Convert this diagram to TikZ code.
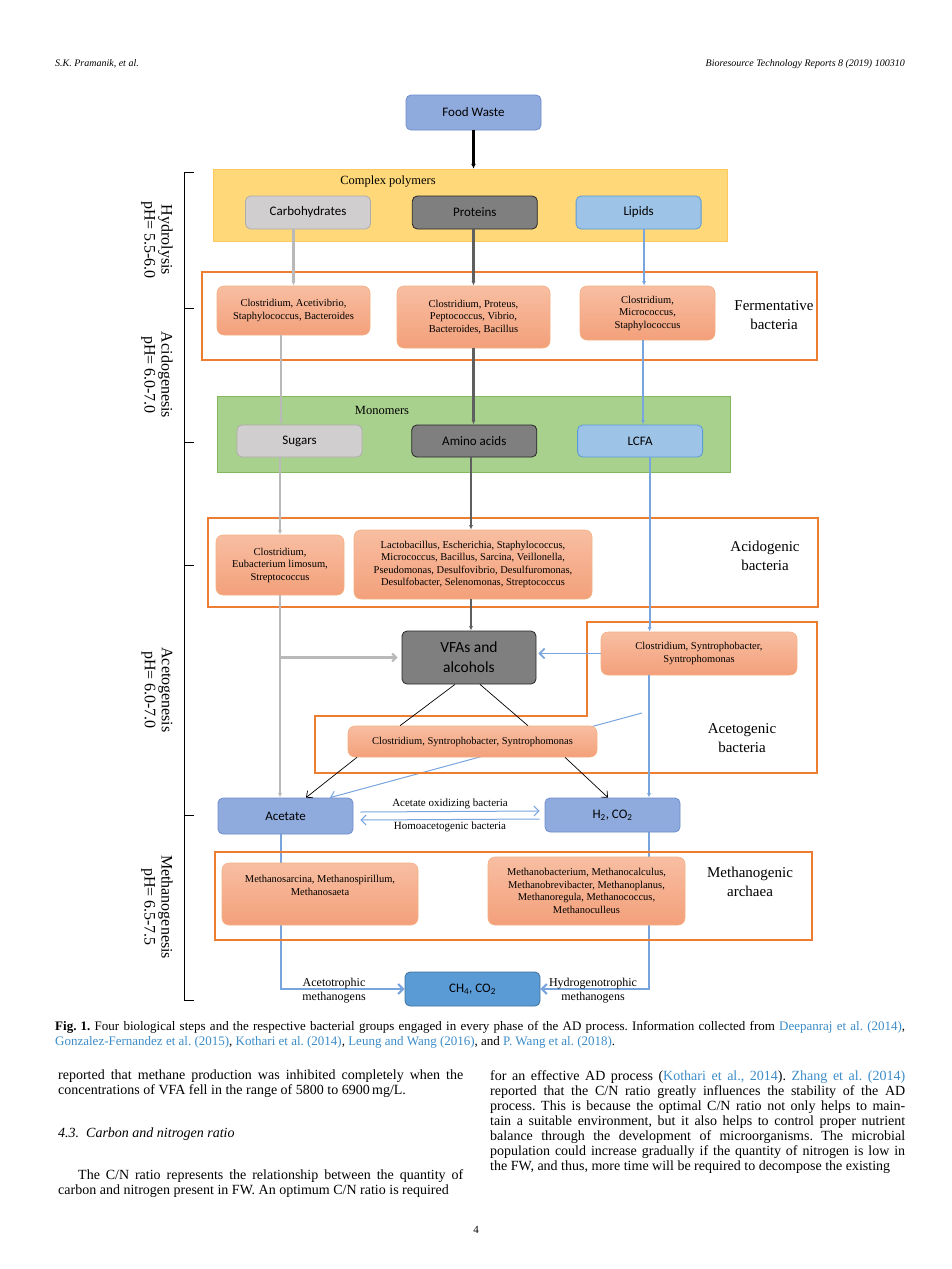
\documentclass[tikz,border=0pt]{standalone}
\usepackage{fontspec}
\setmainfont{Liberation Serif}
\newfontfamily\calibri{Carlito}
\usetikzlibrary{positioning, arrows.meta, backgrounds}
\frenchspacing

\definecolor{wasteblue}{RGB}{143,170,220}
\definecolor{wasteedge}{RGB}{110,140,205}
\definecolor{lipblue}{RGB}{157,195,230}
\definecolor{lipedge}{RGB}{91,155,213}
\definecolor{ltgray}{RGB}{208,206,206}
\definecolor{ltedge}{RGB}{175,171,171}
\definecolor{dkgray}{RGB}{127,127,127}
\definecolor{dkedge}{RGB}{38,38,38}
\definecolor{bacttop}{RGB}{248,190,162}
\definecolor{bactbot}{RGB}{243,160,122}
\definecolor{bactedge}{RGB}{244,177,131}
\definecolor{frameorange}{RGB}{237,125,49}
\definecolor{polyyellow}{RGB}{255,216,122}
\definecolor{polyedge}{RGB}{255,200,90}
\definecolor{monogreen}{RGB}{169,209,142}
\definecolor{monoedge}{RGB}{130,185,95}
\definecolor{methblue}{RGB}{91,155,213}
\definecolor{methedge}{RGB}{65,113,156}
\definecolor{linkblue}{RGB}{60,140,200}
\definecolor{lineblue}{RGB}{120,165,222}
\definecolor{linegray}{RGB}{185,185,185}
\definecolor{linedark}{RGB}{95,95,95}

\newcommand{\lnk}[1]{\textcolor{linkblue}{#1}}

\tikzset{
	x=1pt, y=-1pt, % one unit is one pixel of the page, y runs downwards
	every node/.style={inner sep=0pt},
	box/.style={draw, rounded corners=5pt, line width=0.8pt, align=center, font=\calibri\fontsize{13}{16}\selectfont}, % the coloured boxes
	wastebox/.style={box, fill=wasteblue, draw=wasteedge},
	lightbox/.style={box, fill=ltgray, draw=ltedge},
	darkbox/.style={box, fill=dkgray, draw=dkedge},
	lipbox/.style={box, fill=lipblue, draw=lipedge},
	methbox/.style={box, fill=methblue, draw=methedge},
	rowbox/.style={minimum width=125, minimum height=33},
	bactbox/.style={draw=bactedge, rounded corners=7pt, line width=0.6pt, top color=bacttop, bottom color=bactbot, align=center, font=\fontsize{10.5}{12.5}\selectfont}, % bacterial groups
	groupframe/.style={draw=frameorange, line width=1.4pt},
	grouplabel/.style={align=center, font=\fontsize{15}{19}\selectfont},
	grouptitle/.style={font=\fontsize{12.5}{15}\selectfont},
	phaselabel/.style={align=center, rotate=-90, font=\fontsize{16}{17}\selectfont},
	smalllabel/.style={align=center, font=\fontsize{12}{14}\selectfont},
	arrowlabel/.style={font=\fontsize{11}{13}\selectfont},
	grayline/.style={-{Latex[length=4.5pt,width=4pt]}, line width=2.1pt, draw=linegray},
	darkline/.style={-{Latex[length=4.5pt,width=4pt]}, line width=2.1pt, draw=linedark},
	blueline/.style={-{Latex[length=4.5pt,width=4pt]}, line width=2.1pt, draw=lineblue},
	thinblue/.style={-{Straight Barb[length=5pt,width=10pt]}, line width=1pt, draw=lineblue},
	blackline/.style={line width=0.7pt},
	blackarrow/.style={-{Straight Barb[length=5pt,width=9pt]}, line width=0.7pt},
	pagetext/.style={align=justify, font=\fontsize{14}{15}\selectfont},
}

\begin{document}
\begin{tikzpicture}
	\useasboundingbox (0,0) rectangle (952,1269);

	% running head
	\node[anchor=west, font=\itshape\fontsize{10}{12}\selectfont] (headleft) at (55,64) {S.K. Pramanik, et al.};
	\node[anchor=east, font=\itshape\fontsize{10}{12}\selectfont] (headright) at (905,64) {Bioresource Technology Reports 8 (2019) 100310};

	% substrate
	\node[wastebox, minimum width=135, minimum height=35] (waste) at (473.5,112.5) {Food Waste};

	% hydrolysis
	\node[fill=polyyellow, draw=polyedge, minimum width=514, minimum height=72] (poly) at (470,205) {};
	\node[grouptitle] (polytitle) at (388,182) {Complex polymers};
	\node[lightbox, rowbox] (carb) at (308,212.5) {Carbohydrates};
	\node[darkbox, rowbox, right=41pt of carb] (prot) {Proteins};
	\node[lipbox, rowbox, right=38pt of prot] (lip) {Lipids};

	% fermentative bacteria
	\node[groupframe, minimum width=615, minimum height=88] (fermframe) at (509.5,316) {};
	\node[bactbox, minimum width=153, minimum height=49] (fermA) at (293.5,310.5) {Clostridium, Acetivibrio,\\Staphylococcus, Bacteroides};
	\node[bactbox, minimum width=153, minimum height=62] (fermB) at (473.5,317) {Clostridium, Proteus,\\Peptococcus, Vibrio,\\Bacteroides, Bacillus};
	\node[bactbox, minimum width=135, minimum height=54] (fermC) at (647.5,313) {Clostridium,\\Micrococcus,\\Staphylococcus};
	\node[grouplabel] (fermlabel) at (774,315) {Fermentative\\bacteria};

	% monomers
	\node[fill=monogreen, draw=monoedge, minimum width=513, minimum height=76] (mono) at (473.5,434) {};
	\node[grouptitle] (monotitle) at (382,410) {Monomers};
	\node[lightbox, rowbox, minimum height=32] (sugar) at (299.5,441) {Sugars};
	\node[darkbox, rowbox, minimum height=32, right=49pt of sugar] (amino) {Amino acids};
	\node[lipbox, rowbox, minimum height=32, right=40pt of amino] (lcfa) {LCFA};

	% acidogenic bacteria
	\node[groupframe, minimum width=610, minimum height=89] (acidframe) at (513,562.5) {};
	\node[bactbox, minimum width=128, minimum height=60] (acidA) at (280,565) {Clostridium,\\Eubacterium limosum,\\Streptococcus};
	\node[bactbox, minimum width=238, minimum height=69] (acidB) at (473,564.5) {Lactobacillus, Escherichia, Staphylococcus,\\Micrococcus, Bacillus, Sarcina, Veillonella,\\Pseudomonas, Desulfovibrio, Desulfuromonas,\\Desulfobacter, Selenomonas, Streptococcus};
	\node[grouplabel] (acidlabel) at (765,556) {Acidogenic\\bacteria};

	% acetogenesis
	\node[darkbox, minimum width=134, minimum height=53, font=\calibri\fontsize{15.5}{20}\selectfont] (vfa) at (469,657.5) {VFAs and\\alcohols};
	\draw[groupframe] (587,622) -- (817,622) -- (817,773) -- (315,773) -- (315,716) -- (587,716) -- cycle;
	\node[bactbox, minimum width=196, minimum height=43] (acetoA) at (699,653.5) {Clostridium, Syntrophobacter,\\Syntrophomonas};
	\node[grouplabel] (acetolabel) at (742,738) {Acetogenic\\bacteria};
	\node[wastebox, minimum width=135, minimum height=36] (acetate) at (285.5,816) {Acetate};
	\node[wastebox, minimum width=135, minimum height=34] (hydro) at (612.5,815) {H\textsubscript{2}, CO\textsubscript{2}};
	\coordinate (bluefrom) at (642,713);
	\begin{scope}[on background layer]
		\draw[thinblue] (bluefrom) -- ([xshift=44.5pt]acetate.north);
	\end{scope}
	\node[bactbox, minimum width=249, minimum height=31] (acetoB) at (472.5,741.5) {Clostridium, Syntrophobacter, Syntrophomonas};

	% methanogenic archaea
	\node[groupframe, minimum width=597, minimum height=88] (methframe) at (513.5,896) {};
	\node[bactbox, minimum width=196, minimum height=62] (methA) at (320,894) {Methanosarcina, Methanospirillum,\\Methanosaeta\\[5pt]};
	\node[bactbox, minimum width=197, minimum height=68] (methB) at (586.5,891) {Methanobacterium, Methanocalculus,\\Methanobrevibacter, Methanoplanus,\\Methanoregula, Methanococcus,\\Methanoculleus};
	\node[grouplabel] (methlabel) at (750,882) {Methanogenic\\archaea};
	\node[methbox, minimum width=135, minimum height=34] (biogas) at (472.5,989) {CH\textsubscript{4}, CO\textsubscript{2}};
	\node[smalllabel] (acetotroph) at (334,991) {Acetotrophic\\methanogens};
	\node[smalllabel] (hydrotroph) at (593,991) {Hydrogenotrophic\\methanogens};

	% connectors
	\draw[-{Latex[length=5pt,width=5pt]}, line width=2.4pt] (waste.south) -- (waste.south |- poly.north);
	\draw[grayline] (fermA.north |- carb.south) -- (fermA.north);
	\draw[darkline] (fermB.north |- prot.south) -- (fermB.north);
	\draw[blueline] ([xshift=5.5pt]lip.south) -- ([xshift=5.5pt]lip.south |- fermC.north);
	\draw[grayline] ([xshift=-12.5pt]fermA.south) -- ([xshift=-12.5pt]fermA.south |- sugar.north);
	\draw[darkline] (fermB.south) -- (fermB.south |- amino.north);
	\draw[blueline] ([xshift=-4.5pt]fermC.south) -- ([xshift=-4.5pt]fermC.south |- lcfa.north);
	\draw[grayline] (acidA.north |- sugar.south) -- (acidA.north);
	\draw[darkline] ([xshift=-2pt]acidB.north |- amino.south) -- ([xshift=-2pt]acidB.north);
	\draw[blueline] ([xshift=9.5pt]lcfa.south) -- ([xshift=9.5pt]lcfa.south |- acetoA.north);
	\draw[darkline] ([xshift=-2pt]acidB.south) -- ([xshift=-2pt]acidB.south |- vfa.north);
	\draw[grayline] (acidA.south) -- (acidA.south |- acetate.north);
	\draw[grayline, -{Straight Barb[length=4pt,width=8pt]}, shorten >=4pt] (acidA.south |- vfa.west) -- (vfa.west);
	\draw[thinblue, line width=1.8pt, shorten >=2pt] (acetoA.west) -- (acetoA.west -| vfa.east);
	\draw[blueline] ([xshift=-50pt]acetoA.south) -- ([xshift=-50pt]acetoA.south |- hydro.north);
	\draw[blackline] ([xshift=-14pt]vfa.south) -- ([xshift=-72.5pt]acetoB.north);
	\draw[blackline] ([xshift=11pt]vfa.south) -- ([xshift=55.5pt]acetoB.north);
	\draw[blackarrow] ([xshift=-115.5pt]acetoB.south) -- ([xshift=20.5pt]acetate.north);
	\draw[blackarrow] ([xshift=92.5pt]acetoB.south) -- ([xshift=-4.5pt]hydro.north);
	\draw[thinblue] ([xshift=7pt,yshift=4pt]acetate.east) -- node[arrowlabel, above=2pt] (oxid) {Acetate oxidizing bacteria} ([xshift=-5pt,yshift=4pt]hydro.west);
	\draw[thinblue] ([xshift=-5pt,yshift=-4pt]hydro.west) -- node[arrowlabel, below=2pt] (homo) {Homoacetogenic bacteria} ([xshift=7pt,yshift=-4pt]acetate.east);
	\begin{scope}[on background layer]
		\draw[thinblue, line width=2.1pt] ([xshift=-4.5pt]acetate.south) |- (biogas.west);
		\draw[thinblue, line width=2.1pt] ([xshift=36.5pt]hydro.south) |- (biogas.east);
	\end{scope}

	% phases
	\draw[line width=0.8pt] (194,172) -- (184,172) -- (184,308) -- (194,308);
	\draw[line width=0.8pt] (194,308) -- (184,308) -- (184,442) -- (194,442);
	\draw[line width=0.8pt] (194,442) -- (184,442) -- (184,565) -- (194,565);
	\draw[line width=0.8pt] (194,565) -- (184,565) -- (184,815) -- (194,815);
	\draw[line width=0.8pt] (194,815) -- (184,815) -- (184,1000) -- (194,1000);
	\node[phaselabel] (hydrolysis) at (157,240) {Hydrolysis\\pH= 5.5-6.0};
	\node[phaselabel] (acidogenesis) at (157,375) {Acidogenesis\\pH= 6.0-7.0};
	\node[phaselabel] (acetogenesis) at (157,690) {Acetogenesis\\pH= 6.0-7.0};
	\node[phaselabel] (methanogenesis) at (157,907) {Methanogenesis\\pH= 6.5-7.5};

	% caption
	\node[anchor=north west, text width=850pt, align=justify, font=\fontsize{13}{15}\selectfont] (caption) at (55,1021) {\textbf{Fig. 1.} Four biological steps and the respective bacterial groups engaged in every phase of the AD process. Information collected from \lnk{Deepanraj et al. (2014)},\linebreak \lnk{Gonzalez-Fernandez et al. (2015)}, \lnk{Kothari et al. (2014)}, \lnk{Leung and Wang (2016)}, and \lnk{P. Wang et al. (2018)}.};

	% body text
	\node[pagetext, anchor=north west, text width=405pt] (leftpar) at (58,1070) {reported that methane production was inhibited completely when the\linebreak concentrations of VFA fell in the range of 5800 to 6900\,mg/L.};
	\node[anchor=base west, font=\itshape\fontsize{14}{15}\selectfont] (section) at (58,1137) {4.3.\ \ Carbon and nitrogen ratio};
	\node[pagetext, anchor=north west, text width=405pt] (cnpar) at (58,1169) {\parfillskip=0pt\hspace*{20pt}The C/N ratio represents the relationship between the quantity of\linebreak carbon and nitrogen present in FW. An optimum C/N ratio is required};
	\node[pagetext, anchor=north west, text width=415pt] (rightpar) at (490,1070) {\parfillskip=0pt for an effective AD process (\lnk{Kothari et al., 2014}). \lnk{Zhang et al. (2014)}\linebreak reported that the C/N ratio greatly influences the stability of the AD\linebreak process. This is because the optimal C/N ratio not only helps to main-\linebreak tain a suitable environment, but it also helps to control proper nutrient\linebreak balance through the development of microorganisms. The microbial\linebreak population could increase gradually if the quantity of nitrogen is low in\linebreak the FW, and thus, more time will be required to decompose the existing};
	\node[font=\fontsize{11}{13}\selectfont] (pagenum) at (476,1230) {4};
\end{tikzpicture}
\end{document}
